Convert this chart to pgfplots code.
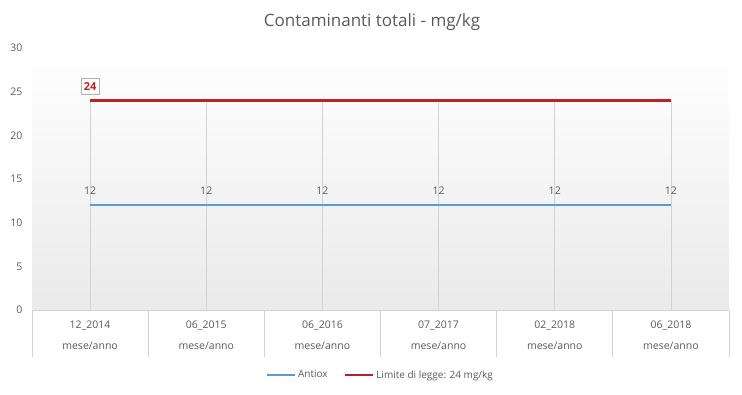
\documentclass[border=0pt]{standalone}
\usepackage{pgfplots}
\pgfplotsset{compat=1.18}
\usepackage{fontspec}
\setmainfont{Open Sans}
\definecolor{txt}{RGB}{89,89,89}
\definecolor{blueS}{RGB}{91,155,213}
\definecolor{redS}{RGB}{192,30,40}
\definecolor{gridc}{RGB}{210,210,210}
\begin{document}
\begin{tikzpicture}[x=1pt,y=1pt]
\path[use as bounding box] (0,0) rectangle (742,394);
\node[text=txt, font=\fontsize{17}{20}\selectfont] at (372,372) {Contaminanti totali - mg/kg};
\begin{axis}[
  at={(32pt,84pt)}, anchor=south west,
  scale only axis, width=697pt, height=262pt,
  xmin=-0.5, xmax=5.5, ymin=0, ymax=30,
  ytick={0,5,...,30},
  xtick={0,1,2,3,4,5},
  xticklabels={{12\_2014\\[9pt]mese/anno},{06\_2015\\[9pt]mese/anno},{06\_2016\\[9pt]mese/anno},{07\_2017\\[9pt]mese/anno},{02\_2018\\[9pt]mese/anno},{06\_2018\\[9pt]mese/anno}},
  xticklabel style={align=center, text=txt, font=\fontsize{10.5}{12}\selectfont, yshift=-7pt},
  yticklabel style={text=txt, font=\fontsize{10.5}{12}\selectfont, xshift=-6pt},
  /pgf/number format/assume math mode=true,
  major tick length=0pt,
  axis line style={draw=none},
  axis background/.style={top color=white, bottom color={rgb,255:red,234;green,234;blue,234}},
  clip=false,
  legend columns=2,
  legend style={draw=none, fill=none, at={(0.5,-0.248)}, anchor=center, font=\fontsize{10}{12}\selectfont, text=txt, /tikz/every even column/.append style={column sep=14pt}},
  legend image code/.code={\draw[#1] (0pt,0pt) -- (28pt,0pt);},
]
\addplot[ycomb, gridc, line width=0.8pt, forget plot] coordinates {(0,24) (1,24) (2,24) (3,24) (4,24) (5,24)};
\draw[gridc, line width=0.8pt] (axis cs:-0.5,0) -- (axis cs:5.5,0);
\draw[gridc, line width=0.8pt] (axis cs:-0.5,0) -- ++(0pt,-47pt);
\draw[gridc, line width=0.8pt] (axis cs:0.5,0) -- ++(0pt,-47pt);
\draw[gridc, line width=0.8pt] (axis cs:1.5,0) -- ++(0pt,-47pt);
\draw[gridc, line width=0.8pt] (axis cs:2.5,0) -- ++(0pt,-47pt);
\draw[gridc, line width=0.8pt] (axis cs:3.5,0) -- ++(0pt,-47pt);
\draw[gridc, line width=0.8pt] (axis cs:4.5,0) -- ++(0pt,-47pt);
\draw[gridc, line width=0.8pt] (axis cs:5.5,0) -- ++(0pt,-47pt);
\addplot[blueS, line width=2pt, mark=none,
  nodes near coords, every node near coord/.append style={text=txt, font=\fontsize{10.5}{12}\selectfont, anchor=south, yshift=6pt}]
  coordinates {(0,12) (1,12) (2,12) (3,12) (4,12) (5,12)};
\addlegendentry{Antiox}
\addplot[redS, line width=2.6pt, mark=none]
  coordinates {(0,24) (1,24) (2,24) (3,24) (4,24) (5,24)};
\addlegendentry{Limite di legge: 24 mg/kg}
\node[draw=gray!60, line width=0.6pt, fill=white, text=redS, font=\bfseries\fontsize{11}{13}\selectfont, inner xsep=3pt, inner ysep=4pt, anchor=south] at (axis cs:0,24) [yshift=6pt] {24};
\end{axis}
\end{tikzpicture}
\end{document}
